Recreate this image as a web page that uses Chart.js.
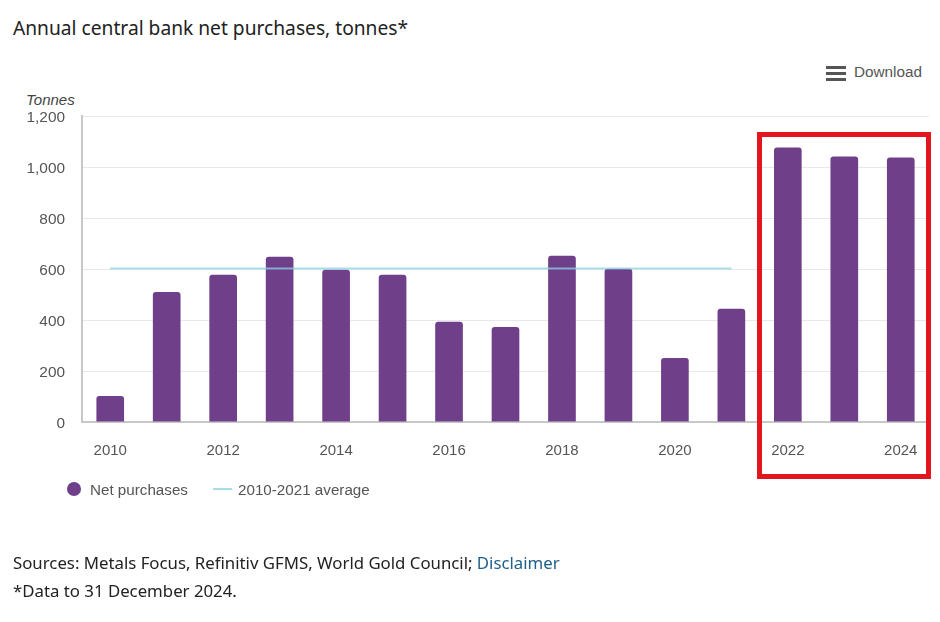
<!DOCTYPE html>
<html>
<head>
<meta charset="utf-8">
<title>Annual central bank net purchases</title>
<script src="https://cdn.jsdelivr.net/npm/chart.js@4"></script>
<style>
  html, body { margin: 0; padding: 0; background: #fff; }
  body { position: relative; width: 940px; height: 622px; overflow: hidden; font-family: "Liberation Sans", Arial, sans-serif; }
  canvas { position: absolute; left: 0; top: 0; }
  .note { position: absolute; left: 13px; color: #222; font-family: "Noto Sans", sans-serif; white-space: nowrap; }
  .note a { color: #1f5f8b; text-decoration: none; }
  #title { top: 14px; font-size: 19.2px; }
  #sources { top: 551px; font-size: 16.8px; }
  #dataNote { top: 579px; font-size: 16.8px; }
  #unit { position: absolute; left: 26px; top: 91px; font-size: 15px; font-style: italic; color: #444; }
  #download { position: absolute; left: 854px; top: 63px; font-size: 15.3px; color: #555; }
  #burger { position: absolute; left: 826px; top: 66px; width: 20px; height: 3px; background: #555; box-shadow: 0 6px 0 #555, 0 12px 0 #555; }
  #highlight { position: absolute; left: 757px; top: 132px; width: 174px; height: 347px; border: 5px solid #e2161f; box-sizing: border-box; }
  #legend { position: absolute; left: 67px; top: 481px; font-size: 15.2px; color: #555; white-space: nowrap; }
  #legend span { position: absolute; top: 0; }
  #legend i { position: absolute; display: block; }
</style>
</head>
<body>
<div class="note" id="title">Annual central bank net purchases, tonnes*</div>
<div id="burger"></div>
<div id="download">Download</div>
<div id="unit">Tonnes</div>
<canvas id="goldChart" width="940" height="622"></canvas>
<div id="highlight"></div>
<div id="legend"></div>
<div class="note" id="sources">Sources: Metals Focus, Refinitiv GFMS, World Gold Council; <a href="#">Disclaimer</a></div>
<div class="note" id="dataNote">*Data to 31 December 2024.</div>
<script>
const years = ['2010','2011','2012','2013','2014','2015','2016','2017','2018','2019','2020','2021','2022','2023','2024'];
const netPurchases = [102,510,577,648,597,577,393,373,652,601,251,444,1076,1041,1037];
const average = [602,602,602,602,602,602,602,602,602,602,602,602,null,null,null];
const yTicks = [0,200,400,600,800,1000,1200];

const purple = '#6f3f8a';
const lightBlue = 'rgba(140,210,225,0.75)';

const chart = new Chart(document.getElementById('goldChart'), {
  data: {
    labels: years,
    datasets: [
      { type: 'line', label: '2010-2021 average', data: average, borderColor: lightBlue, borderWidth: 2, pointRadius: 0, order: 1 },
      { type: 'bar', label: 'Net purchases', data: netPurchases, backgroundColor: purple, barPercentage: 0.49, categoryPercentage: 1,
        borderRadius: { topLeft: 3, topRight: 3 }, order: 2 }
    ]
  },
  options: {
    responsive: false,
    animation: false,
    devicePixelRatio: 1,
    layout: { padding: { left: 0, right: 11, top: 116, bottom: 0 } },
    plugins: { legend: { display: false }, tooltip: { enabled: false } },
    scales: {
      x: {
        grid: { display: false },
        border: { color: '#c8c8c8', width: 2 },
        ticks: {
          color: '#555', font: { family: 'Liberation Sans', size: 15 }, padding: 12, maxRotation: 0, autoSkip: false,
          callback: function (v, i) { return i % 2 === 0 ? years[i] : ''; }
        },
        afterFit: function (s) { s.height = 200; }
      },
      y: {
        min: 0, max: 1200,
        afterBuildTicks: function (s) { s.ticks = yTicks.map(function (v) { return { value: v }; }); },
        grid: { color: '#e8e8ec', drawTicks: false },
        border: { color: '#c8c8c8', width: 2 },
        ticks: {
          color: '#555', font: { family: 'Liberation Sans', size: 15.4 }, padding: 17, labelOffset: 1.5,
          callback: function (v) { return v.toLocaleString('en-US'); }
        },
        afterFit: function (s) { s.width = 82; }
      }
    }
  }
});

// legend is plain html so it can sit at the reference position, text comes from the datasets
const legend = document.getElementById('legend');
const barSet = chart.data.datasets[1];
const lineSet = chart.data.datasets[0];
legend.innerHTML =
  '<i style="left:0;top:1px;width:14px;height:14px;border-radius:50%;background:' + barSet.backgroundColor + '"></i>' +
  '<span style="left:23px">' + barSet.label + '</span>' +
  '<i style="left:146px;top:7px;width:19px;height:2px;background:' + lineSet.borderColor + '"></i>' +
  '<span style="left:171px">' + lineSet.label + '</span>';
</script>
</body>
</html>
